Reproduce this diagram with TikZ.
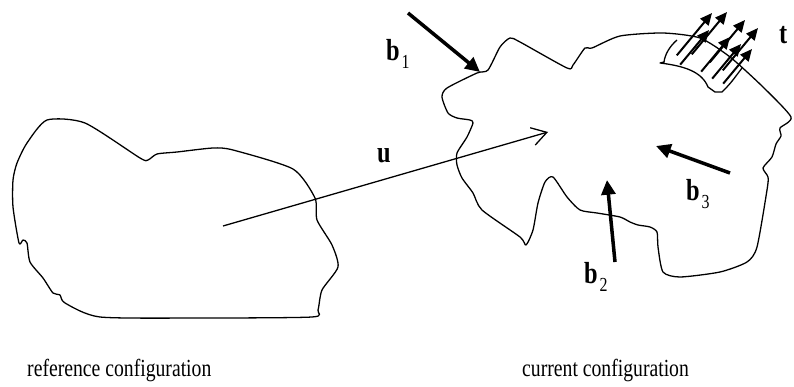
\documentclass[tikz,border=0pt]{standalone}
\usepackage{fontspec}
\setmainfont{Liberation Serif}[FakeStretch=0.8]
\usetikzlibrary{arrows.meta}
\newcommand{\vecsub}[2]{\textbf{#1}\kern1.5pt\raisebox{-0.28em}{\fontsize{17}{20}\selectfont #2}}

\begin{document}
\begin{tikzpicture}[x=0.3mm, y=-0.3mm, line join=round,
  body/.style={line width=1.1pt},
  load/.style={line width=3pt, -{Triangle[length=4.4mm,width=4.2mm]}},
  tract/.style={line width=1.7pt, -{Triangle[length=3.6mm,width=3.2mm]}},
  lbl/.style={font=\fontsize{26}{30}\selectfont, inner sep=0pt, anchor=base west},
  captxt/.style={font=\fontsize{21}{25}\selectfont, inner sep=0pt, anchor=base west}]
\useasboundingbox (0,0) rectangle (794,387);
% reference body
\draw[body] plot[smooth cycle, tension=0.4] coordinates {
  (47,120) (85,123) (140,158) (148,160) (157,154) (177,152) (213,148) (233,150)
  (293,169) (315,198) (317,220) (332,245) (338,267) (322,290) (318,310) (312,317)
  (200,318) (100,317) (65,303) (60,295) (53,293) (43,278) (30,262) (27,243)
  (23,240) (19,243) (13,207) (13,180) (17,163) (27,143)};
% current body
\draw[body] plot[smooth cycle, tension=0.4] coordinates {
  (488,70) (500,47) (510,38) (520,42) (567,68) (573,65) (585,48) (592,48)
  (620,36) (663,33) (700,38) (730,57) (763,87) (791,117) (780,128) (781,136)
  (776,144) (772,157) (763,168) (768,177) (767,190) (757,247) (747,262) (720,272) (680,277)
  (663,272) (658,247) (657,232) (650,227) (638,225) (630,222) (620,217) (597,213)
  (580,210) (567,197) (553,177) (545,182) (538,203) (533,230) (526,245) (520,237)
  (482,210) (473,193) (462,178) (457,165) (457,153) (467,137) (473,123) (470,120)
  (457,118) (448,113) (442,97) (447,88) (477,73)};
% displacement
\coordinate (u0) at (223,226);
\coordinate (u1) at (548,132);
\draw[body, -{Straight Barb[length=4.4mm,width=5.4mm]}] (u0) -- (u1);
\node[lbl] (lu) at (377,162) {\textbf{u}};
% body forces
\coordinate (b1s) at (408,13);
\coordinate (b1e) at (480,72);
\coordinate (b2s) at (615,262);
\coordinate (b2e) at (607,180);
\coordinate (b3s) at (730,173);
\coordinate (b3e) at (656,146);
\draw[load] (b1s) -- (b1e);
\draw[load] (b2s) -- (b2e);
\draw[load] (b3s) -- (b3e);
\node[lbl] (lb1) at (386,60) {\vecsub{b}{1}};
\node[lbl] (lb2) at (584,283) {\vecsub{b}{2}};
\node[lbl] (lb3) at (686,200) {\vecsub{b}{3}};
% traction patch
\draw[body] (677,40) .. controls (670,46) and (665,54) .. (664,62) -- (660,63)
  .. controls (685,66) and (702,72) .. (708,87) -- (715,92) -- (722,92)
  .. controls (730,84) .. (742,68);
\foreach \x/\y/\l in {712/13/55, 727/12/55, 745/20/55, 758/28/55,
                      709/30/45, 730/37/45, 741/44/45, 752/49/45}
  \draw[tract] ({\x-0.64*\l},{\y+0.77*\l}) -- (\x,\y);
\node[lbl] (lt) at (779,43) {\textbf{t}};
% captions
\node[captxt] (cref) at (27,376) {reference configuration};
\node[captxt] (ccur) at (522,376) {current configuration};
\end{tikzpicture}
\end{document}
